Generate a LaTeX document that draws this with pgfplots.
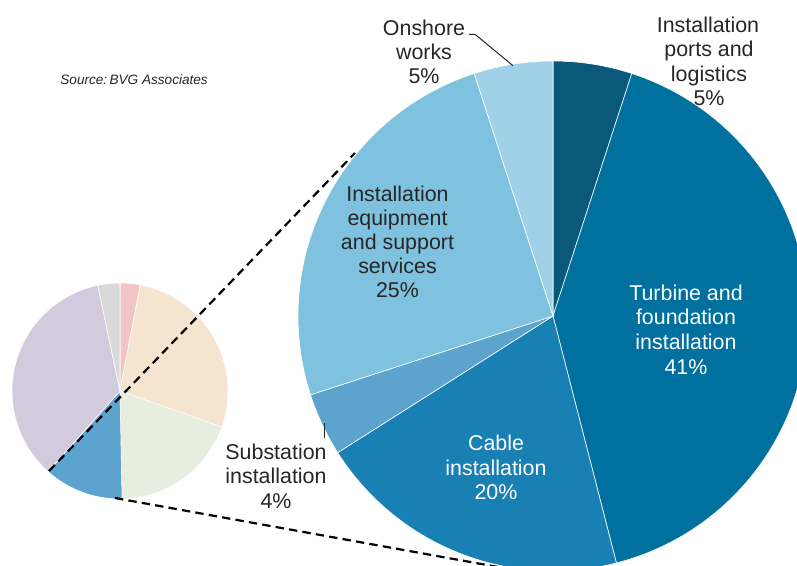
\documentclass[border=0pt]{standalone}
\usepackage{pgfplots}
\pgfplotsset{compat=1.18}
\usepackage{fontspec}
\setmainfont{Liberation Sans}
\definecolor{cPorts}{HTML}{0A597B}
\definecolor{cTurb}{HTML}{00719F}
\definecolor{cCable}{HTML}{1980B4}
\definecolor{cSub}{HTML}{5CA4CD}
\definecolor{cEquip}{HTML}{7EC2E0}
\definecolor{cOn}{HTML}{A1D1E6}
\definecolor{sPink}{HTML}{F2C5C3}
\definecolor{sBeige}{HTML}{F5E4CF}
\definecolor{sGreen}{HTML}{E8EEDF}
\definecolor{sBlue}{HTML}{5CA4CD}
\definecolor{sLav}{HTML}{D1CBDD}
\definecolor{sGray}{HTML}{D9D9D9}
\definecolor{txt}{HTML}{262626}
% #1 cx, #2 cy, #3 radius, #4 cumulative start (%), #5 value (%), #6 colour
\newcommand{\slice}[6]{%
  \addplot[draw=white, line width=0.3pt, fill=#6, domain={(#4)*3.6}:{(#4+#5)*3.6}, samples=90, variable=\t]
    ({#1+#3*sin(\t)},{#2-#3*cos(\t)}) -- (axis cs:#1,#2) -- cycle;}
\newcommand{\lab}{\fontsize{10.7}{12.2}\selectfont}
\newcommand{\tl}[4]{\node[anchor=base, font=\lab, text=#4, inner sep=0pt] at (axis cs:#1,#2) {#3};}
\begin{document}
\begin{tikzpicture}
\begin{axis}[x=0.5pt, y=0.5pt, xmin=0, xmax=797, ymin=0, ymax=566, y dir=reverse,
  ticks=none, axis line style={draw=none}, clip=true]
% small pie (whole life cost breakdown)
\slice{120}{391}{108}{0}{3}{sPink}
\slice{120}{391}{108}{3}{27.4}{sBeige}
\slice{120}{391}{108}{30.4}{19.3}{sGreen}
\slice{120}{391}{108}{49.7}{11.9}{sBlue}
\slice{120}{391}{108}{61.6}{35.1}{sLav}
\slice{120}{391}{108}{96.7}{3.3}{sGray}
% connector lines
\addplot[black, line width=1.1pt, dash pattern=on 4.2pt off 2.6pt] coordinates {(49,471) (355,153)};
\addplot[black, line width=1.1pt, dash pattern=on 4.2pt off 2.6pt] coordinates {(115,498) (498,567)};
% big pie (installation breakdown)
\slice{553}{316}{255}{0}{5}{cPorts}
\slice{553}{316}{255}{5}{41}{cTurb}
\slice{553}{316}{255}{46}{20}{cCable}
\slice{553}{316}{255}{66}{4}{cSub}
\slice{553}{316}{255}{70}{25}{cEquip}
\slice{553}{316}{255}{95}{5}{cOn}
% leader lines
\addplot[txt, line width=0.5pt] coordinates {(469,34.3) (475,34.3) (513,65.7)};
\addplot[txt, line width=0.5pt] coordinates {(324,423) (324,438)};
% labels
\node[anchor=base west, font=\fontsize{6.8}{8}\selectfont\itshape, text=txt, inner sep=0pt] at (axis cs:60,84.5) {Source:\,BVG Associates};
\tl{424}{36}{Onshore}{txt}
\tl{424}{60}{works}{txt}
\tl{424}{84}{5\%}{txt}
\tl{708}{32.5}{Installation}{txt}
\tl{709}{57}{ports and}{txt}
\tl{709}{81.5}{logistics}{txt}
\tl{709}{106}{5\%}{txt}
\tl{397.5}{201.5}{Installation}{txt}
\tl{397.5}{225.5}{equipment}{txt}
\tl{397.5}{249.5}{and support}{txt}
\tl{397.5}{273.5}{services}{txt}
\tl{397.5}{297.5}{25\%}{txt}
\tl{686}{300.5}{Turbine and}{white}
\tl{686}{325}{foundation}{white}
\tl{686}{349.5}{installation}{white}
\tl{686}{374}{41\%}{white}
\tl{496}{450.5}{Cable}{white}
\tl{496}{475}{installation}{white}
\tl{496}{499.5}{20\%}{white}
\tl{276}{459}{Substation}{txt}
\tl{276}{483.5}{installation}{txt}
\tl{276}{508}{4\%}{txt}
\end{axis}
\end{tikzpicture}
\end{document}
